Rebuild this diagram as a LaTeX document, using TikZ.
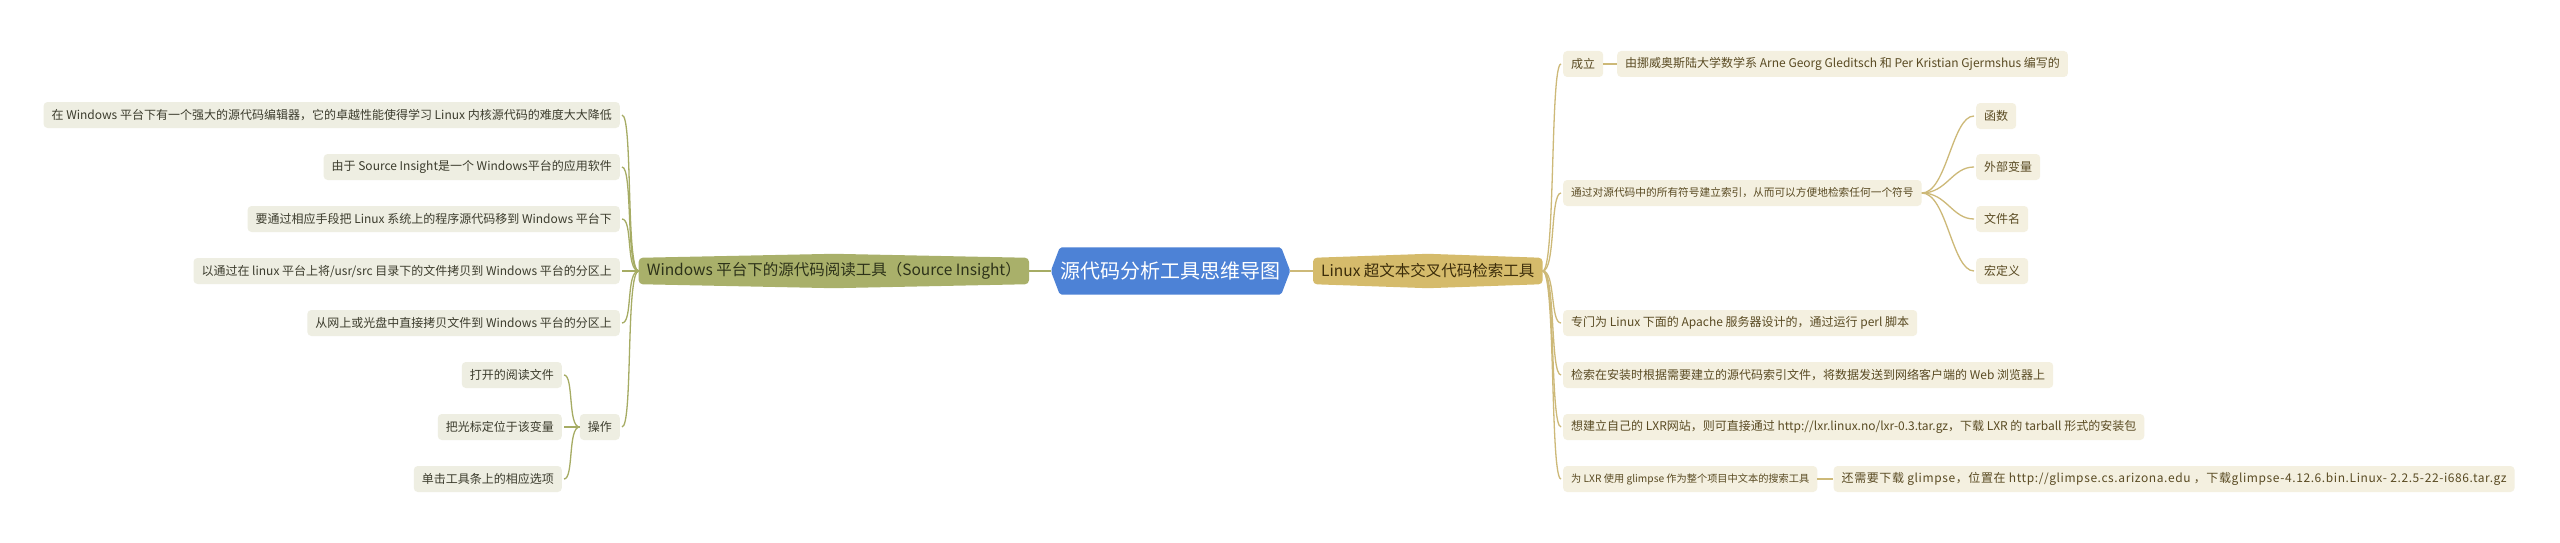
\documentclass[tikz,border=0pt]{standalone}
\usepackage{fontspec}
\setmainfont{Noto Sans CJK SC}
\usetikzlibrary{backgrounds,calc}
\pgfdeclarelayer{canvas}
\pgfsetlayers{canvas,background,main}
\definecolor{rootblue}{RGB}{77,130,214}
\definecolor{lmainfill}{RGB}{169,176,106}
\definecolor{rmainfill}{RGB}{213,187,107}
\definecolor{lfill}{RGB}{238,238,226}
\definecolor{rfill}{RGB}{244,240,224}
\definecolor{lline}{RGB}{166,172,100}
\definecolor{rline}{RGB}{205,185,120}
\definecolor{ltext}{RGB}{60,60,45}
\definecolor{rtext}{RGB}{90,75,35}
\definecolor{lmaintext}{RGB}{45,50,25}
\definecolor{rmaintext}{RGB}{60,45,10}
\tikzset{
  rootnode/.style={minimum width=239pt, minimum height=47pt, inner sep=0pt, text=white, font=\fontsize{20}{24}\selectfont},
  mainnode/.style={minimum height=26pt, inner xsep=8pt, inner ysep=0pt, font=\fontsize{15.5}{18}\selectfont},
  lchild/.style={fill=lfill, text=ltext, rounded corners=4pt, inner xsep=8pt, inner ysep=0pt, minimum height=26pt, font=\fontsize{12}{14}\selectfont, anchor=east},
  rchild/.style={fill=rfill, text=rtext, rounded corners=4pt, inner xsep=8pt, inner ysep=0pt, minimum height=26pt, font=\fontsize{12}{14}\selectfont, anchor=west},
  lconn/.style={draw=lline, line width=1.3pt},
  rconn/.style={draw=rline, line width=1.3pt},
}
\begin{document}
\begin{tikzpicture}[x=1pt,y=-1pt]
\begin{pgfonlayer}{canvas}
\fill[white] (0,0) rectangle (2560,543);
\end{pgfonlayer}
\useasboundingbox (0,0) rectangle (2560,543);

% root and main branches
\node[rootnode] (root) at (1170.5,271) {源代码分析工具思维导图};
\node[mainnode, text=lmaintext, anchor=east] (lm) at (1029,271) {Windows 平台下的源代码阅读工具（Source Insight）};
\node[mainnode, text=rmaintext, anchor=west] (rm) at (1313,271) {Linux 超文本交叉代码检索工具};

\begin{scope}[on background layer]
\fill[rootblue, rounded corners=2pt] ([xshift=9pt]root.north west) -- ([xshift=-9pt]root.north east) -- (root.east) -- ([xshift=-9pt]root.south east) -- ([xshift=9pt]root.south west) -- (root.west) -- cycle;
\fill[lmainfill, rounded corners=4pt] (lm.west) -- (lm.north west) -- ([yshift=4pt]lm.north) -- (lm.north east) -- (lm.south east) -- ([yshift=-4pt]lm.south) -- (lm.south west) -- cycle;
\fill[rmainfill, rounded corners=4pt] (rm.west) -- (rm.north west) -- ([yshift=4pt]rm.north) -- (rm.north east) -- (rm.south east) -- ([yshift=-4pt]rm.south) -- (rm.south west) -- cycle;
\end{scope}

\draw[lconn] (root.west) -- (lm.east);
\draw[rconn] (root.east) -- (rm.west);

% left children
\node[lchild] (l1) at (620,115) {在 Windows 平台下有一个强大的源代码编辑器，它的卓越性能使得学习 Linux 内核源代码的难度大大降低};
\node[lchild] (l2) at (620,167) {由于 Source Insight是一个 Windows平台的应用软件};
\node[lchild] (l3) at (620,219) {要通过相应手段把 Linux 系统上的程序源代码移到 Windows 平台下};
\node[lchild] (l4) at (620,271) {以通过在 linux 平台上将/usr/src 目录下的文件拷贝到 Windows 平台的分区上};
\node[lchild] (l5) at (620,323) {从网上或光盘中直接拷贝文件到 Windows 平台的分区上};
\node[lchild] (l6) at (620,427) {操作};
\node[lchild] (o1) at (562,375) {打开的阅读文件};
\node[lchild] (o2) at (562,427) {把光标定位于该变量};
\node[lchild] (o3) at (562,479) {单击工具条上的相应选项};

\foreach \n in {l1,l2,l3,l4,l5,l6}
  \draw[lconn] (lm.west) .. controls +(-13,0) and +(11,0) .. ([xshift=2pt]\n.east);
\foreach \n in {o1,o2,o3}
  \draw[lconn] (l6.west) .. controls +(-12,0) and +(10,0) .. ([xshift=2pt]\n.east);

% right children
\node[rchild] (r1) at (1563,64) {成立};
\node[rchild] (r1c) at (1617,64) {由挪威奥斯陆大学数学系 Arne Georg Gleditsch 和 Per Kristian Gjermshus 编写的};
\node[rchild, font=\fontsize{10.7}{12}\selectfont] (r2) at (1563,193) {通过对源代码中的所有符号建立索引，从而可以方便地检索任何一个符号};
\node[rchild] (k1) at (1976,116) {函数};
\node[rchild] (k2) at (1976,167) {外部变量};
\node[rchild] (k3) at (1976,219) {文件名};
\node[rchild] (k4) at (1976,271) {宏定义};
\node[rchild] (r3) at (1563,323) {专门为 Linux 下面的 Apache 服务器设计的，通过运行 perl 脚本};
\node[rchild] (r4) at (1563,375) {检索在安装时根据需要建立的源代码索引文件，将数据发送到网络客户端的 Web 浏览器上};
\node[rchild] (r5) at (1563,427) {想建立自己的 LXR网站，则可直接通过 http://lxr.linux.no/lxr-0.3.tar.gz，下载 LXR 的 tarball 形式的安装包};
\node[rchild, font=\fontsize{10.2}{12}\selectfont] (r6) at (1563,479) {为 LXR 使用 glimpse 作为整个项目中文本的搜索工具};
\node[rchild, font=\fontsize{12}{14}\selectfont\addfontfeature{LetterSpace=5}, anchor=west] (r6c) at ([xshift=16pt]r6.east) {还需要下载 glimpse，位置在 http://glimpse.cs.arizona.edu ，下载glimpse-4.12.6.bin.Linux- 2.2.5-22-i686.tar.gz};

\foreach \n in {r1,r2,r3,r4,r5,r6}
  \draw[rconn] (rm.east) .. controls +(13,0) and +(-11,0) .. ([xshift=-2pt]\n.west);
\foreach \n in {k1,k2,k3,k4}
  \draw[rconn] (r2.east) .. controls +(25,0) and +(-22,0) .. ([xshift=-2pt]\n.west);
\draw[rconn] (r1.east) -- (r1c.west);
\draw[rconn] (r6.east) -- (r6c.west);
\end{tikzpicture}
\end{document}
